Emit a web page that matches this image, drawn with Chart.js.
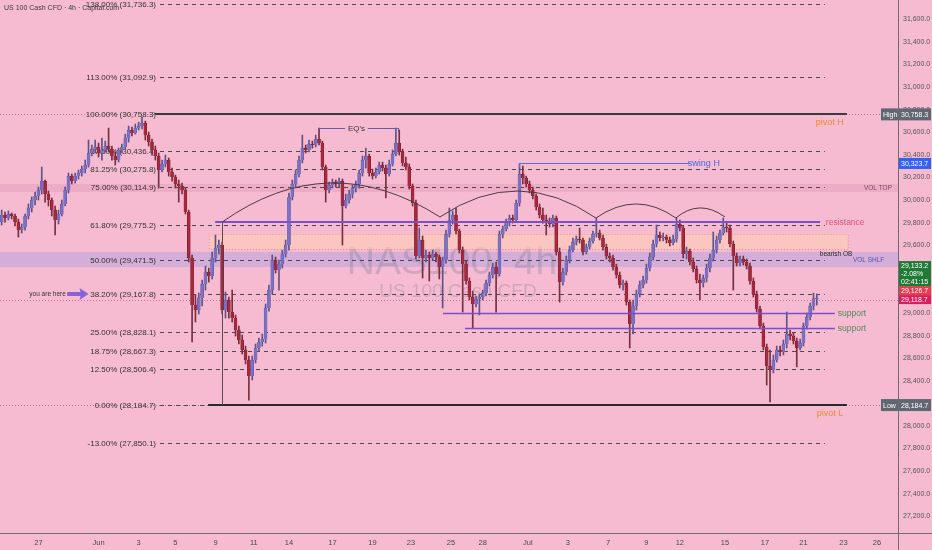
<!DOCTYPE html>
<html><head><meta charset="utf-8">
<script src="https://cdn.jsdelivr.net/npm/chart.js@4.4.1/dist/chart.umd.min.js"></script>
<style>html,body{margin:0;padding:0;background:#f6bbd1;overflow:hidden}canvas{display:block}</style>
</head><body>
<canvas id="c" width="932" height="550"></canvas>
<script>
const titleText = 'US 100 Cash CFD · 4h · Capital.com';
const watermark1 = 'NAS100, 4h';
const watermark2 = 'US 100 Cash CFD';
const dateLabels = ['27','Jun','3','5','9','11','14','17','19','23','25','28','Jul','3','7','9','12','15','17','21','23','26'];
const dateTickIdx = [11,29,41,52,64,75.5,86,99,111,122.5,134.5,144,157.5,169.5,181.5,193,203,216.5,228.5,240,252,262];
const priceTicks = [27200,27400,27600,27800,28000,28200,28400,28600,28800,29000,29200,29400,29600,29800,30000,30200,30400,30600,30800,31000,31200,31400,31600];

const firstOpen = 29805;
const closes = [29867,29841,29876,29858,29805,29734,29761,29858,29929,30000,
30035,30089,30168,30053,30000,29911,29823,29876,29965,30089,
30212,30168,30212,30239,30274,30310,30416,30451,30469,30416,
30443,30478,30451,30390,30354,30443,30469,30549,30620,30593,
30637,30655,30682,30575,30513,30443,30390,30266,30319,30354,
30248,30204,30142,30124,30089,29894,29487,29070,29026,29132,
29256,29363,29327,29487,29575,29602,29026,29115,29009,28955,
28849,28761,28672,28584,28442,28584,28690,28743,28769,29044,
29203,29469,29380,29433,29522,29602,30027,30142,30230,30354,
30460,30443,30496,30487,30540,30505,30292,30089,30133,30159,
30142,30168,29947,30000,30053,30106,30142,30239,30354,30390,
30239,30212,30248,30310,30283,30230,30319,30407,30505,30425,
30328,30292,30124,29973,29504,29646,29487,29513,29487,29522,
29495,29407,29469,29699,29823,29867,29725,29557,29433,29283,
29141,29079,29124,29141,29177,29265,29336,29407,29345,29699,
29743,29805,29841,29823,29973,30230,30195,30142,30089,30035,
29938,29867,29823,29805,29788,29841,29540,29274,29363,29469,
29557,29628,29655,29646,29540,29584,29637,29699,29708,29664,
29584,29504,29487,29407,29336,29248,29265,29097,28902,29062,
29168,29248,29292,29398,29495,29610,29690,29664,29672,29646,
29619,29655,29788,29752,29522,29548,29451,29389,29292,29265,
29309,29398,29487,29557,29646,29708,29761,29752,29610,29504,
29442,29478,29451,29416,29283,29168,29035,28885,28699,28530,
28495,28584,28672,28654,28725,28814,28796,28752,28690,28734,
28885,28964,29062,29124,29127];
const highs = [29911,29894,29903,29885,29876,29832,29788,29876,29965,30027,
30071,30115,30292,30177,30080,30018,29947,29911,30000,30115,
30239,30230,30239,30266,30301,30354,30531,30487,30531,30505,
30549,30522,30637,30478,30425,30460,30496,30584,30655,30646,
30673,30690,30735,30699,30602,30540,30478,30416,30354,30398,
30372,30283,30221,30177,30150,30106,29911,29513,29159,29177,
29292,29416,29398,29540,29690,29646,29628,29186,29141,29203,
28982,28885,28805,28707,28619,28619,28725,28778,28814,29079,
29247,29513,29495,29469,29557,29646,30062,30177,30266,30390,
30575,30487,30531,30522,30575,30637,30522,30310,30159,30186,
30177,30195,30186,30053,30089,30133,30168,30266,30390,30460,
30407,30274,30283,30336,30336,30310,30354,30443,30637,30620,
30451,30381,30319,30142,30000,29752,29681,29557,29540,29557,
29540,29513,29495,29734,29929,29903,29929,29743,29584,29460,
29310,29194,29150,29168,29203,29292,29363,29442,29451,29726,
29770,29832,29867,29867,30000,30319,30301,30212,30168,30115,
30053,29965,29929,29867,29841,29867,29858,29575,29398,29504,
29593,29664,29681,29752,29664,29610,29664,29726,29841,29734,
29690,29610,29531,29513,29433,29363,29292,29283,29115,29115,
29203,29283,29327,29433,29531,29646,29779,29717,29708,29690,
29672,29690,29841,29823,29770,29584,29566,29487,29416,29345,
29336,29433,29522,29717,29681,29734,29841,29805,29779,29637,
29531,29504,29504,29478,29442,29310,29194,29062,28911,28725,
28672,28628,28707,28707,28761,29009,28849,28823,28778,28770,
28911,29000,29088,29177,29168];
const lows = [29779,29805,29823,29832,29770,29672,29708,29734,29832,29894,
29956,30000,30053,29982,29947,29858,29690,29788,29858,29947,
30062,30142,30150,30186,30212,30239,30292,30390,30416,30381,
30354,30425,30425,30354,30310,30336,30416,30451,30513,30567,
30584,30620,30629,30531,30478,30398,30354,30106,30248,30292,
30212,30168,30106,29982,30053,29876,29451,28743,28920,28991,
29062,29203,29274,29301,29451,29522,28991,28955,28955,28920,
28796,28725,28637,28548,28229,28406,28557,28663,28707,28734,
29017,29168,29354,29203,29398,29495,29557,30000,30115,30204,
30328,30416,30425,30460,30469,30487,30266,29982,30062,30106,
30115,30115,29602,29929,29973,30018,30071,30106,30212,30283,
30212,30186,30195,30230,30257,30018,30212,30301,30390,30398,
30301,30266,30097,29947,29478,29487,29309,29451,29283,29469,
29451,29301,29044,29442,29672,29788,29699,29531,29008,29256,
29115,28867,29053,28982,29115,29150,29239,29309,29008,29327,
29664,29726,29770,29796,29805,29947,30142,30115,30062,30009,
29911,29841,29796,29690,29761,29761,29513,29097,29247,29336,
29442,29540,29602,29619,29513,29522,29566,29619,29672,29646,
29557,29478,29451,29380,29309,29221,29203,29070,28690,28814,
29026,29141,29221,29265,29372,29469,29584,29637,29637,29619,
29593,29602,29628,29726,29487,29478,29425,29363,29265,29115,
29230,29274,29363,29460,29531,29619,29690,29717,29584,29203,
29416,29416,29425,29389,29256,29141,29008,28858,28672,28362,
28212,28469,28566,28619,28628,28690,28761,28725,28522,28672,
28707,28858,28938,29026,29070];

const fibPct = [138, 113, 100, 87.5, 81.25, 75, 61.8, 50, 38.2, 25, 18.75, 12.5, 0, -13];
const fibPrice = [31736.3, 31092.9, 30758.3, 30436.4, 30275.8, 30114.9, 29775.2, 29471.5, 29167.8, 28828.1, 28667.3, 28506.4, 28184.7, 27850.1];
const fibFromIdx = 47.4, fibToIdx = 246.4;

const pivotHigh = 30758.3, pivotLow = 28184.7;
const swingHigh = 30323.7;
const resistancePrice = 29805;
const supportPrices = [29000, 28867];
const supportFromIdx = [132.1, 138.7];
const obTop = 29699, obBottom = 29566;
const volTop = [30142, 30071];
const volShelf = [29540, 29407];
const eqPrice = 30638;
const lastPrice = 29133.2, lastChange = '-2.08%', countdown = '02:41:15';
const bidPrice = 29126.7, askPrice = 29118.7;
// arcs: [startIdx, startPrice, peakIdx, peakPrice, endIdx, endPrice]
const arcs = [
  [66, 29805, 98.3, 30151, 131.2, 29850],
  [131.2, 29850, 154.5, 30080, 177.9, 29841],
  [177.9, 29841, 189.9, 29965, 201.8, 29841],
  [201.8, 29841, 209, 29930, 216.5, 29850]
];

const FONT = '"Liberation Sans", Arial, sans-serif';
const BG = '#f6bbd1';
const opens = closes.map((c, i) => i === 0 ? firstOpen : closes[i - 1]);
const bodies = closes.map((c, i) => ({x: i, y: [opens[i], c]}));
const wicks = closes.map((c, i) => ({x: i, y: [lows[i], highs[i]]}));
const isUp = i => closes[i] >= opens[i];
const fmt1 = v => Number(v).toLocaleString('en-US', {minimumFractionDigits: 1, maximumFractionDigits: 1});

const tvPlugin = {
  id: 'tv',
  beforeDraw(chart) {
    const ctx = chart.ctx;
    ctx.save(); ctx.fillStyle = BG; ctx.fillRect(0, 0, chart.width, chart.height); ctx.restore();
  },
  beforeDatasetsDraw(chart) {
    const {ctx, chartArea: a, scales: {x, y}} = chart;
    const X = v => x.getPixelForValue(v), Y = v => y.getPixelForValue(v);
    ctx.save();
    ctx.beginPath(); ctx.rect(a.left, a.top, a.right - a.left, a.bottom - a.top); ctx.clip();
    // volume bands
    ctx.fillStyle = 'rgba(214,130,165,0.28)';
    ctx.fillRect(a.left, Y(volTop[0]), a.right - a.left, Y(volTop[1]) - Y(volTop[0]));
    ctx.fillStyle = 'rgba(170,160,225,0.45)';
    ctx.fillRect(a.left, Y(volShelf[0]), a.right - a.left, Y(volShelf[1]) - Y(volShelf[0]));
    // watermark
    ctx.fillStyle = 'rgba(115,110,135,0.28)';
    ctx.textAlign = 'center'; ctx.textBaseline = 'middle';
    ctx.font = '39px ' + FONT;
    ctx.fillText(watermark1, 452, 263);
    ctx.font = '19px ' + FONT;
    ctx.fillText(watermark2, 458, 292);
    // bearish OB box
    const bx1 = X(62.1), bx2 = X(253.3), by1 = Y(obTop), by2 = Y(obBottom);
    ctx.fillStyle = 'rgba(255,205,178,0.6)';
    ctx.fillRect(bx1, by1, bx2 - bx1, by2 - by1);
    ctx.strokeStyle = '#e2967c'; ctx.lineWidth = 1; ctx.setLineDash([1, 2]);
    ctx.strokeRect(Math.round(bx1) + 0.5, Math.round(by1) + 0.5, bx2 - bx1, by2 - by1);
    // dotted price lines (High/Low, last)
    ctx.setLineDash([1, 2]);
    ctx.strokeStyle = 'rgba(80,80,90,0.55)';
    [pivotHigh, pivotLow].forEach(p => {
      const yy = Math.round(Y(p)) + 0.5;
      ctx.beginPath(); ctx.moveTo(a.left, yy); ctx.lineTo(a.right, yy); ctx.stroke();
    });
    ctx.strokeStyle = 'rgba(215,50,90,0.6)';
    const ly = Math.round(Y(askPrice)) + 0.5;
    ctx.beginPath(); ctx.moveTo(a.left, ly); ctx.lineTo(a.right, ly); ctx.stroke();
    // fib levels
    ctx.setLineDash([4, 4]);
    ctx.strokeStyle = '#4a4a4a'; ctx.lineWidth = 1;
    ctx.font = '8px ' + FONT; ctx.textAlign = 'right'; ctx.textBaseline = 'middle';
    ctx.fillStyle = '#333';
    fibPrice.forEach((p, k) => {
      const yy = Math.round(Y(p)) + 0.5;
      ctx.beginPath(); ctx.moveTo(X(fibFromIdx), yy); ctx.lineTo(X(fibToIdx), yy); ctx.stroke();
      ctx.fillText(fibPct[k].toFixed(2) + '% (' + fmt1(p) + ')', X(fibFromIdx) - 4, yy);
    });
    ctx.setLineDash([]);
    // you are here
    ctx.font = '6.5px ' + FONT; ctx.textAlign = 'right'; ctx.fillStyle = '#333';
    const yh = Y(fibPrice[8]);
    ctx.fillText('you are here', X(19.2), yh);
    const ax1 = X(19.6), ax2 = X(26);
    ctx.fillStyle = '#8a62d8';
    ctx.beginPath();
    ctx.moveTo(ax1, yh - 2); ctx.lineTo(ax2 - 8, yh - 2); ctx.lineTo(ax2 - 9, yh - 6);
    ctx.lineTo(ax2, yh); ctx.lineTo(ax2 - 9, yh + 6); ctx.lineTo(ax2 - 8, yh + 2);
    ctx.lineTo(ax1, yh + 2); ctx.closePath(); ctx.fill();
    ctx.restore();
  },
  afterDatasetsDraw(chart) {
    const {ctx, chartArea: a, scales: {x, y}} = chart;
    const X = v => x.getPixelForValue(v), Y = v => y.getPixelForValue(v);
    const hline = (i1, i2, p, color, w) => {
      ctx.strokeStyle = color; ctx.lineWidth = w;
      const yy = Math.round(Y(p)) + (w % 2 ? 0.5 : 0);
      ctx.beginPath(); ctx.moveTo(X(i1), yy); ctx.lineTo(X(i2), yy); ctx.stroke();
    };
    ctx.save();
    // pivots
    hline(45.9, 253, pivotHigh, '#3a3a3a', 2);
    hline(61.8, 253, pivotLow, '#2a2a2a', 2);
    // vertical anchor line
    ctx.strokeStyle = '#5a4a55'; ctx.lineWidth = 1;
    ctx.beginPath(); ctx.moveTo(Math.round(X(66)) + 0.5, Y(resistancePrice)); ctx.lineTo(Math.round(X(66)) + 0.5, Y(pivotLow)); ctx.stroke();
    // resistance and supports
    hline(63.9, 245, resistancePrice, '#7a4fd0', 2);
    hline(supportFromIdx[0], 249.4, supportPrices[0], '#7a4fcc', 1.5);
    hline(supportFromIdx[1], 249.4, supportPrices[1], '#7a4fcc', 1.5);
    // swing H
    hline(154.8, 206, swingHigh, '#5d6de0', 1);
    ctx.strokeStyle = '#5d6de0';
    ctx.beginPath(); ctx.moveTo(Math.round(X(154.8)) + 0.5, Y(swingHigh)); ctx.lineTo(Math.round(X(154.8)) + 0.5, Y(swingHigh) + 4); ctx.stroke();
    // EQ's
    hline(94.7, 102.8, eqPrice, '#6e5aa8', 1);
    hline(109.6, 118.6, eqPrice, '#6e5aa8', 1);
    ctx.strokeStyle = '#6e5aa8';
    ctx.beginPath(); ctx.moveTo(Math.round(X(94.7)) + 0.5, Y(eqPrice)); ctx.lineTo(Math.round(X(94.7)) + 0.5, Y(eqPrice) + 4); ctx.stroke();
    ctx.beginPath(); ctx.moveTo(Math.round(X(118.6)) + 0.5, Y(eqPrice)); ctx.lineTo(Math.round(X(118.6)) + 0.5, Y(eqPrice) + 4); ctx.stroke();
    // arcs
    ctx.strokeStyle = '#4e3a48'; ctx.lineWidth = 1;
    arcs.forEach(r => {
      const sx = X(r[0]), sy = Y(r[1]), px = X(r[2]), py = Y(r[3]), ex = X(r[4]), ey = Y(r[5]);
      const cx = 2 * px - (sx + ex) / 2, cy = 2 * py - (sy + ey) / 2;
      ctx.beginPath(); ctx.moveTo(sx, sy); ctx.quadraticCurveTo(cx, cy, ex, ey); ctx.stroke();
    });
    // labels
    ctx.textBaseline = 'middle'; ctx.textAlign = 'left';
    ctx.font = '8px ' + FONT; ctx.fillStyle = '#333';
    ctx.textAlign = 'center';
    ctx.fillText("EQ's", X(106.2), Y(eqPrice) + 0.5);
    ctx.textAlign = 'left';
    ctx.font = '9px ' + FONT; ctx.fillStyle = '#f08a2a';
    ctx.fillText('pivot H', X(243.7), Y(pivotHigh) + 8);
    ctx.fillText('pivot L', X(244), Y(pivotLow) + 8);
    ctx.fillStyle = '#4c67e6';
    ctx.fillText('swing H', X(205.4), Y(swingHigh));
    ctx.font = '8.5px ' + FONT; ctx.fillStyle = '#e5527a';
    ctx.fillText('resistance', X(246.7), Y(resistancePrice) + 1);
    ctx.font = '8.5px ' + FONT; ctx.fillStyle = '#4f8a5c';
    ctx.fillText('support', X(250.3), Y(supportPrices[0]) + 1);
    ctx.fillText('support', X(250.3), Y(supportPrices[1]) + 1);
    ctx.font = '6.5px ' + FONT; ctx.fillStyle = '#2a2a2a';
    ctx.fillText('bearish OB', X(244.9), Y(obBottom) + 5);
    ctx.fillStyle = '#7a4a62';
    ctx.fillText('VOL TOP', X(258.1), (Y(volTop[0]) + Y(volTop[1])) / 2 + 0.5);
    ctx.fillStyle = '#5a54a8';
    ctx.fillText('VOL SHLF', X(254.8), (Y(volShelf[0]) + Y(volShelf[1])) / 2 + 0.5);
    ctx.restore();
  },
  afterDraw(chart) {
    const {ctx, chartArea: a, scales: {y}} = chart;
    const Y = v => y.getPixelForValue(v);
    ctx.save();
    // axis frame lines
    ctx.strokeStyle = '#6e6e6e'; ctx.lineWidth = 1;
    ctx.beginPath(); ctx.moveTo(0, Math.round(a.bottom) + 0.5); ctx.lineTo(chart.width, Math.round(a.bottom) + 0.5); ctx.stroke();
    ctx.beginPath(); ctx.moveTo(Math.round(a.right) + 0.5, 0); ctx.lineTo(Math.round(a.right) + 0.5, chart.height); ctx.stroke();
    // price tags
    const R = a.right + 1, W = 32;
    ctx.font = '7px ' + FONT; ctx.textBaseline = 'middle'; ctx.textAlign = 'left';
    const tag = (yc, h, bg, fg, lines) => {
      ctx.fillStyle = bg; ctx.fillRect(R, yc - h / 2, W, h);
      ctx.fillStyle = fg;
      const lh = h / lines.length;
      lines.forEach((t, k) => ctx.fillText(t, R + 2, yc - h / 2 + lh * (k + 0.5) + 0.5));
    };
    // High / Low
    [[pivotHigh, 'High'], [pivotLow, 'Low']].forEach(([p, t]) => {
      const yc = Y(p);
      ctx.fillStyle = '#5f6870'; ctx.fillRect(a.right - 17, yc - 6, 17, 12);
      ctx.fillStyle = '#fff'; ctx.fillText(t, a.right - 15, yc + 0.5);
      tag(yc, 12, '#5f6870', '#fff', [fmt1(p)]);
    });
    tag(Y(swingHigh), 11, '#2f62f5', '#fff', [fmt1(swingHigh)]);
    const ya = Y(askPrice);
    tag(ya, 9, '#d81e5b', '#fff', [fmt1(askPrice)]);
    tag(ya - 9, 9, '#ea3a4e', '#fff', [fmt1(bidPrice)]);
    tag(ya - 9 - 4.5 - 12.5, 25, '#1f7a35', '#fff', [fmt1(lastPrice), lastChange, countdown]);
    // title
    ctx.font = '7px ' + FONT; ctx.fillStyle = '#3a3a3a'; ctx.textAlign = 'left';
    ctx.fillText(titleText, 4, 8);
    ctx.restore();
  }
};

new Chart(document.getElementById('c'), {
  type: 'bar',
  data: {
    datasets: [
      {
        label: 'wicks', data: wicks, order: 2, grouped: false, barThickness: 1,
        backgroundColor: c => isUp(c.dataIndex) ? '#5a5488' : '#76303f',
        borderWidth: 0
      },
      {
        label: 'bodies', data: bodies, order: 1, grouped: false, barThickness: 3, minBarLength: 1,
        backgroundColor: c => isUp(c.dataIndex) ? '#7c71c6' : '#a5283e',
        borderColor: c => isUp(c.dataIndex) ? '#5a5196' : '#7a1a2c',
        borderWidth: 0.5
      }
    ]
  },
  options: {
    responsive: false, animation: false, events: [],
    layout: {padding: 0},
    plugins: {legend: {display: false}, tooltip: {enabled: false}},
    scales: {
      x: {
        type: 'linear', min: -0.5, max: 268.3, offset: false,
        grid: {display: false, drawTicks: false}, border: {display: false},
        ticks: {
          color: '#4a4a4a', font: {family: FONT, size: 7.5}, padding: 5, maxRotation: 0, autoSkip: false,
          callback: v => { const k = dateTickIdx.indexOf(v); return k >= 0 ? dateLabels[k] : ''; }
        },
        afterBuildTicks: s => { s.ticks = dateTickIdx.map(v => ({value: v})); },
        afterFit: s => { s.height = 17; s.paddingLeft = 0; s.paddingRight = 0; }
      },
      y: {
        type: 'linear', position: 'right', min: 27052, max: 31771,
        grid: {display: false, drawTicks: false}, border: {display: false},
        ticks: {color: '#555', font: {family: FONT, size: 7}, padding: 5, callback: v => fmt1(v)},
        afterBuildTicks: s => { s.ticks = priceTicks.map(v => ({value: v})); },
        afterFit: s => { s.width = 34; s.paddingTop = 0; s.paddingBottom = 0; }
      }
    }
  },
  plugins: [tvPlugin]
});
</script>
</body></html>
